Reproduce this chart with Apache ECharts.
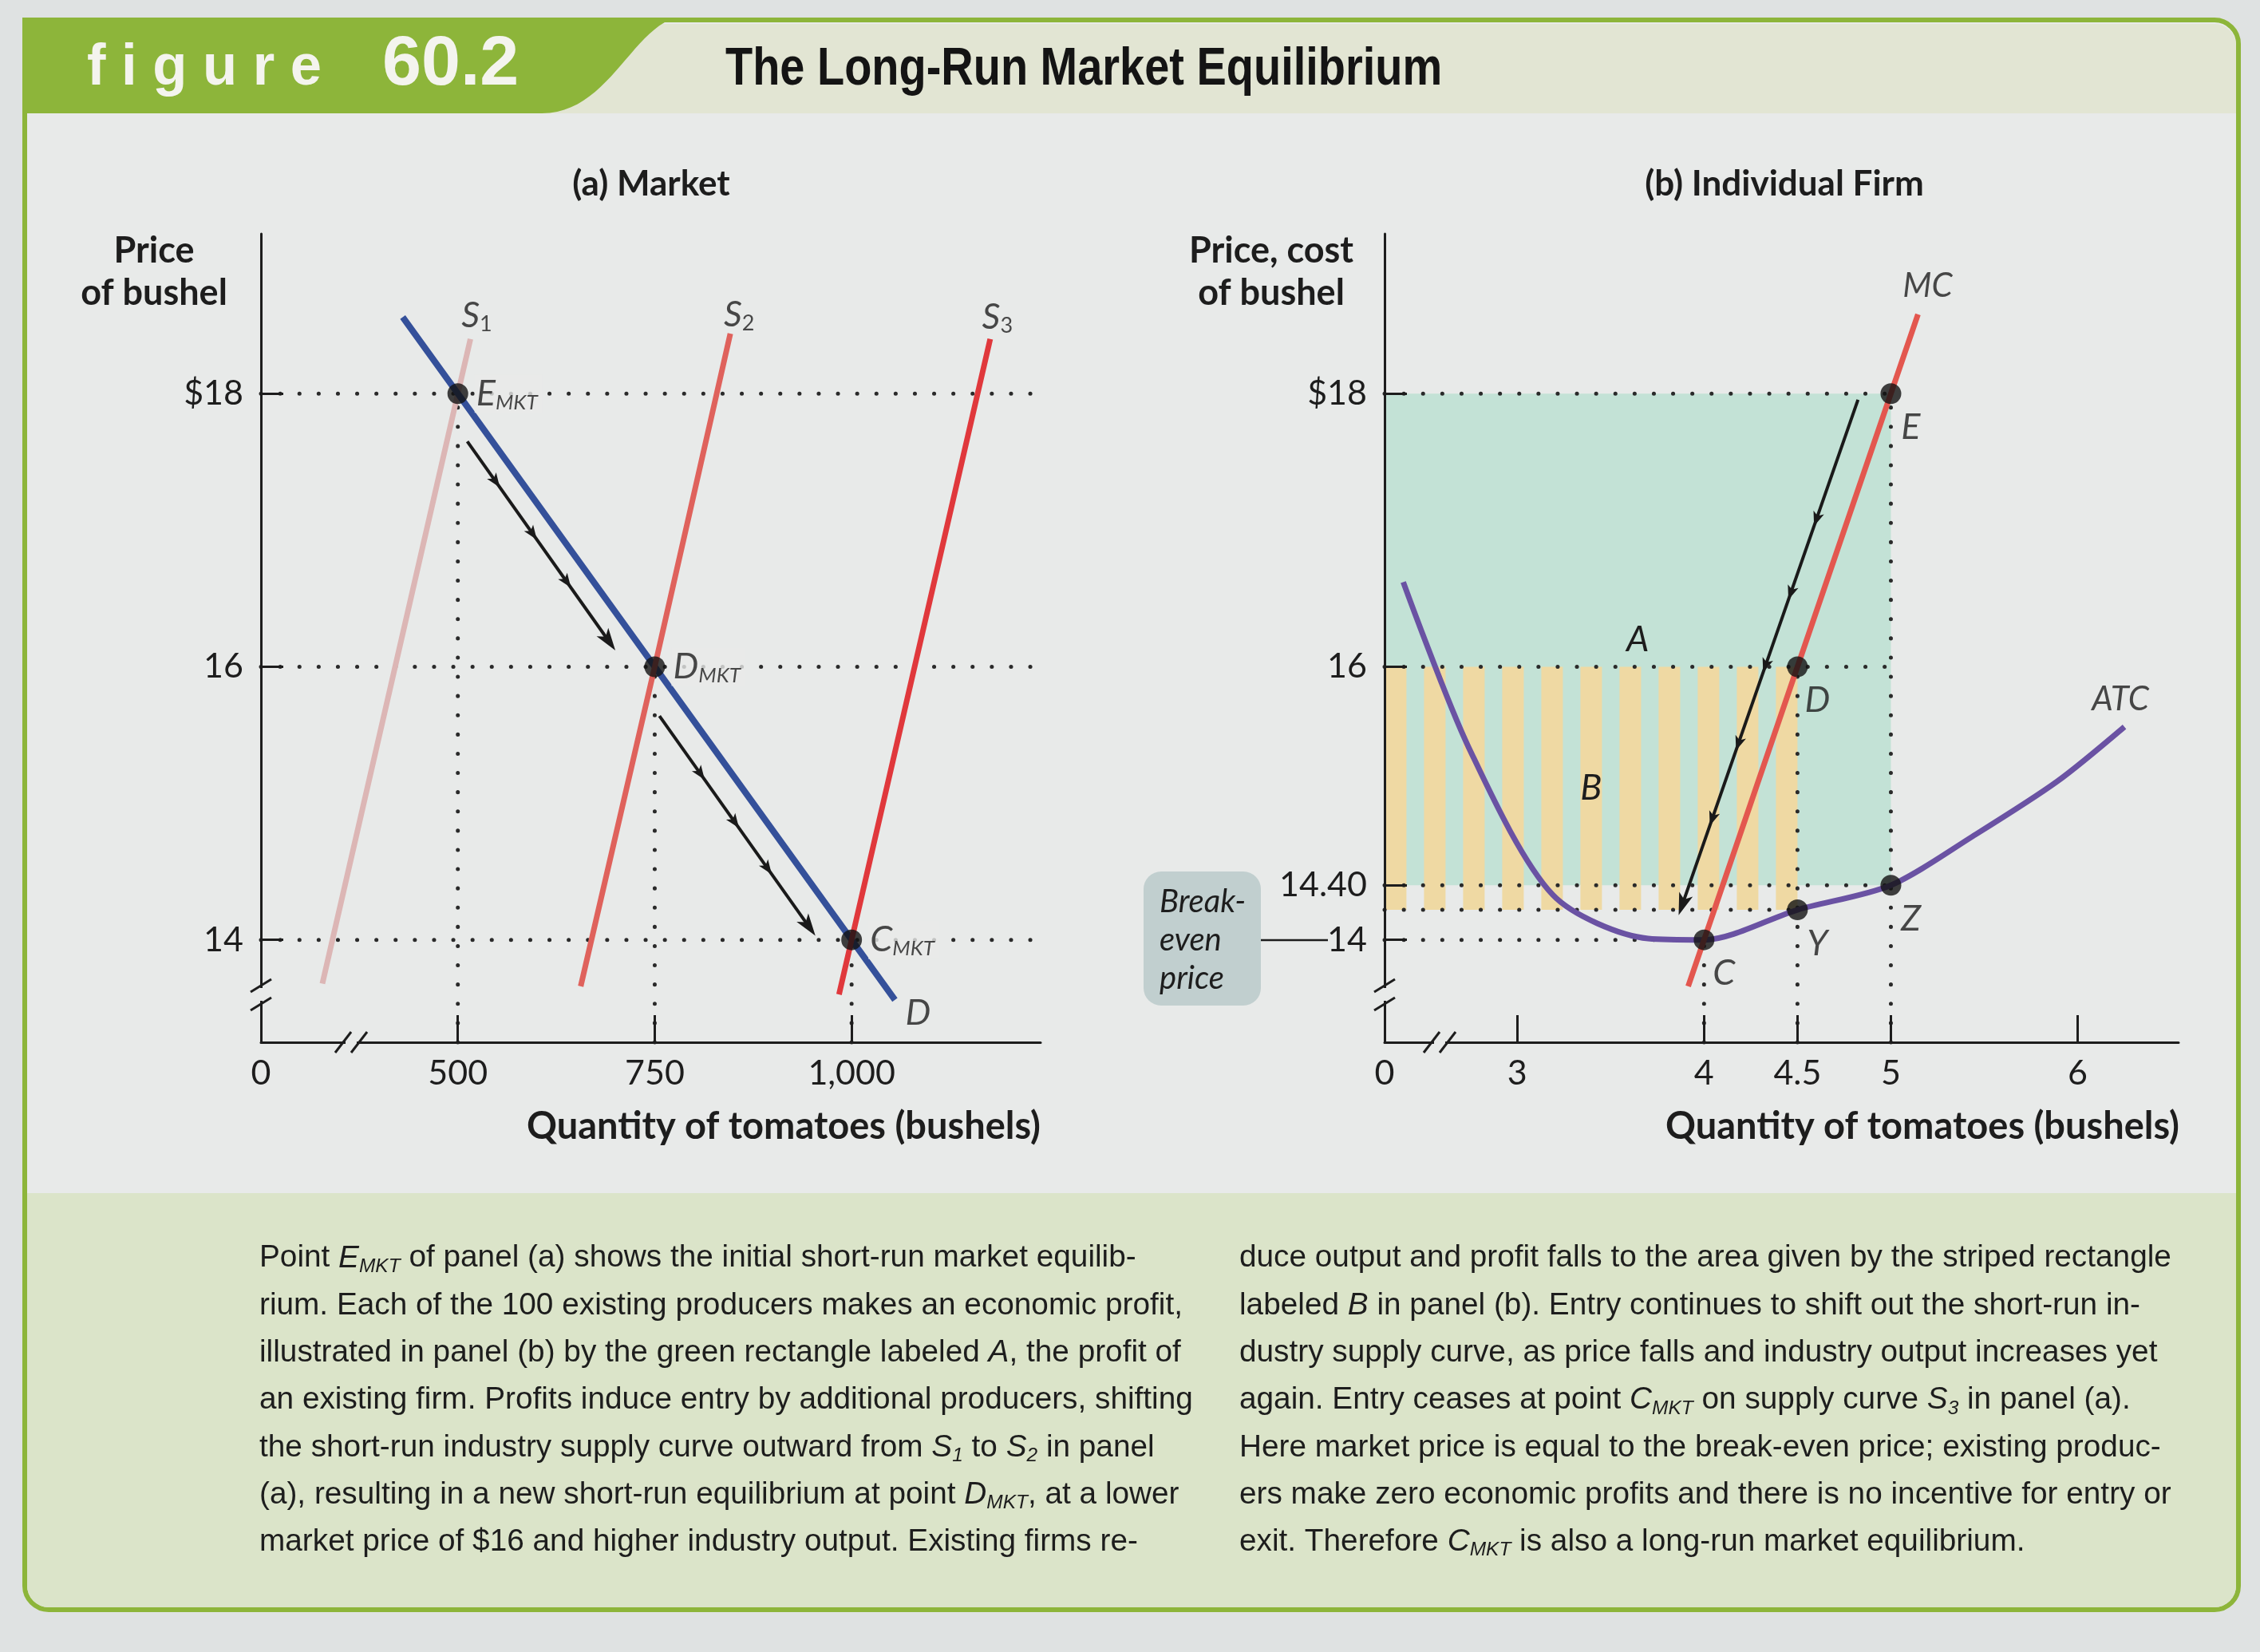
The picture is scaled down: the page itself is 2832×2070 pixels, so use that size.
<!DOCTYPE html>
<html>
<head>
<meta charset="utf-8">
<title>The Long-Run Market Equilibrium</title>
<script src="https://cdn.jsdelivr.net/npm/echarts@6.0.0/dist/echarts.min.js"></script>
<style>
html,body{margin:0;padding:0;background:#dfe2e2;}
#chart{width:2832px;height:2070px;}
</style>
</head>
<body>
<div id="chart"></div>
<script>
// ===================== DATA =====================
// Panel (a): Market
const marketQtyTicks   = [500, 750, 1000];
const marketQtyLabels  = ['500', '750', '1,000'];
const marketPriceTicks = [14, 16, 18];
const marketPriceLabels = ['14', '16', '$18'];

const demandD  = [[430, 18.56], [500, 18], [750, 16], [1000, 14], [1055, 13.56]];
const supplyS1 = [[328, 13.68], [500, 18], [516, 18.4]];
const supplyS2 = [[656, 13.66], [750, 16], [846, 18.44]];
const supplyS3 = [[984, 13.60], [1000, 14], [1176, 18.40]];

const marketPointNames = ['E', 'D', 'C'];
const marketPoints     = [[500, 18], [750, 16], [1000, 14]];

const entryArrow1 = [[512, 17.65], [700, 16.12]];
const entryArrow2 = [[756, 15.64], [954, 14.03]];

// Panel (b): Individual Firm
const firmQtyTicks   = [3, 4, 4.5, 5, 6];
const firmQtyLabels  = ['3', '4', '4.5', '5', '6'];
const firmPriceTicks = [14, 14.4, 16, 18];
const firmPriceLabels = ['14', '14.40', '16', '$18'];

const mcCurve  = [[3.915, 13.66], [4, 14], [4.5, 16], [5, 18], [5.145, 18.58]];
const atcCurve = [[2.39, 16.62], [2.74, 15.41], [3.19, 14.33], [3.70, 14.01], [4, 14],
                  [4.5, 14.22], [5, 14.4], [5.44, 14.76], [5.89, 15.16], [6.25, 15.56]];

const firmPointNames = ['E', 'D', 'Z', 'Y', 'C'];
const firmPoints     = [[5, 18], [4.5, 16], [5, 14.4], [4.5, 14.22], [4, 14]];

const profitA   = [5, 14.4, 18];    // quantity, ATC, price
const profitB   = [4.5, 14.22, 16]; // quantity, ATC, price
const exitArrow = [[4.824, 17.955], [3.864, 14.18]];

// ===================== LAYOUT / STYLE =====================
const GA = {left: 327, top: 293, width: 977, height: 1013};
const GB = {left: 1735, top: 293, width: 995, height: 1013};
const AX = {min: 250, max: 1240};     // broken quantity axis (a), min shown as 0
const BX = {min: 2.29, max: 6.54};    // broken quantity axis (b), min shown as 0
const PY = {min: 13.25, max: 19.17};  // broken price axis
const guideEndPx = {18: 1625, 16: 1658, 14: 1426}; // where market dotted guides stop

const FONT = 'Lato, "Open Sans", sans-serif';
const CAPFONT = '"Liberation Sans", Arial, sans-serif';
const BG = '#e8eae9';
const CAPBG = '#dbe4c9';
const GREEN = '#8db53a';
const INK = '#1d1d1d';
const AREA_A = '#c3e2d6';
const STRIPE = '#efd9a3';

function pxToA(px) { return AX.min + (px - GA.left) / GA.width * (AX.max - AX.min); }
function labelFor(ticks, labels) {
  return v => { const i = ticks.findIndex(t => Math.abs(t - v) < 1e-6); return i >= 0 ? labels[i] : ''; };
}

function xAxisCfg(gi, rng, ticks, labels) {
  return {
    type: 'value', gridIndex: gi, min: rng.min, max: rng.max, z: 5,
    axisLine: {show: true, lineStyle: {color: INK, width: 3}},
    axisTick: {show: true, inside: true, length: 34, customValues: ticks, lineStyle: {color: INK, width: 3}},
    axisLabel: {show: true, customValues: [rng.min].concat(ticks),
      formatter: v => Math.abs(v - rng.min) < 1e-6 ? '0' : labelFor(ticks, labels)(v),
      margin: 18, fontFamily: FONT, fontSize: 43, color: INK},
    splitLine: {show: false}
  };
}
function yAxisCfg(gi, ticks, labels) {
  return {
    type: 'value', gridIndex: gi, min: PY.min, max: PY.max, z: 5,
    axisLine: {show: true, lineStyle: {color: INK, width: 3}},
    axisTick: {show: true, inside: true, length: 28, customValues: ticks, lineStyle: {color: INK, width: 3}},
    axisLabel: {show: true, customValues: ticks, formatter: labelFor(ticks, labels),
      margin: 22, fontFamily: FONT, fontSize: 43, color: INK},
    splitLine: {show: false}
  };
}

function dotted(gi, pts) {
  return {type: 'line', xAxisIndex: gi, yAxisIndex: gi, data: pts, symbol: 'none', silent: true,
    clip: false, animation: false,
    lineStyle: {color: '#2a2a2a', width: 5, type: [0.1, 24], cap: 'round'}};
}
function curve(gi, pts, color, width, extra) {
  return Object.assign({type: 'line', xAxisIndex: gi, yAxisIndex: gi, data: pts, symbol: 'none',
    silent: true, animation: false, lineStyle: {color: color, width: width, cap: 'butt'}}, extra || {});
}

const richItalic = {
  m: {fontFamily: FONT, fontStyle: 'italic', fontSize: 45, color: INK, lineHeight: 48},
  s: {fontFamily: FONT, fontStyle: 'italic', fontSize: 26, color: INK, lineHeight: 22, verticalAlign: 'bottom'},
  n: {fontFamily: FONT, fontSize: 27, color: INK, lineHeight: 22, verticalAlign: 'bottom'}
};

// arrow renderer: line with intermediate barbs and a final head
function arrowSeries(gi, arrows, heads) {
  return {
    type: 'custom', xAxisIndex: gi, yAxisIndex: gi, silent: true, animation: false,
    data: arrows.map(a => [a[0][0], a[0][1], a[1][0], a[1][1]]),
    encode: {x: [0, 2], y: [1, 3]},
    renderItem: (params, api) => {
      const a = api.coord([api.value(0), api.value(1)]);
      const b = api.coord([api.value(2), api.value(3)]);
      const dx = b[0] - a[0], dy = b[1] - a[1], L = Math.hypot(dx, dy);
      const ux = dx / L, uy = dy / L, nx = -uy, ny = ux;
      const tri = (t, len, hw) => {
        const tx = a[0] + dx * t, ty = a[1] + dy * t;
        return {type: 'polygon', shape: {points: [[tx, ty],
          [tx - ux * len + nx * hw, ty - uy * len + ny * hw],
          [tx - ux * len * 0.75, ty - uy * len * 0.75],
          [tx - ux * len - nx * hw, ty - uy * len - ny * hw]]}, style: {fill: '#1a1a1a'}};
      };
      const ch = [{type: 'line', shape: {x1: a[0], y1: a[1], x2: b[0] - ux * 10, y2: b[1] - uy * 10},
                   style: {stroke: '#1a1a1a', lineWidth: 4}}];
      heads[params.dataIndex].forEach(t => ch.push(tri(t, 18, 7)));
      ch.push(tri(1, 28, 9));
      return {type: 'group', children: ch};
    }
  };
}

// ===================== SERIES =====================
const series = [];

// ---- Panel (a) ----
marketPoints.forEach(([q, p]) => {
  series.push(dotted(0, [[AX.min, p], [pxToA(guideEndPx[p]), p]]));
  series.push(dotted(0, [[q, PY.min], [q, p]]));
});
series.push(curve(0, supplyS1, '#dcb6b5', 7));
series.push(curve(0, demandD, '#34509a', 8));
series.push(curve(0, supplyS2, '#df625c', 7));
series.push(curve(0, supplyS3, '#e0383c', 7));
series.push(arrowSeries(0, [entryArrow1, entryArrow2], [[0.22, 0.47, 0.70], [0.29, 0.51, 0.72]]));
series.push({
  type: 'scatter', xAxisIndex: 0, yAxisIndex: 0, symbolSize: 26, silent: true, animation: false, z: 6,
  itemStyle: {color: '#111'},
  data: marketPoints.map((pt, i) => ({value: pt, name: marketPointNames[i]})),
  label: {show: true, position: 'right', distance: 8, formatter: p => '{m|' + p.name + '}{s|MKT}',
    rich: richItalic, backgroundColor: BG, padding: [0, 6, 0, 2]}
});
series.push({
  type: 'scatter', xAxisIndex: 0, yAxisIndex: 0, symbolSize: 0, silent: true, animation: false, z: 6,
  label: {show: true, rich: richItalic},
  data: [
    {value: supplyS1[supplyS1.length - 1], label: {formatter: '{m|S}{n|1}', position: 'top', offset: [8, 0]}},
    {value: supplyS2[supplyS2.length - 1], label: {formatter: '{m|S}{n|2}', position: 'top', offset: [11, 6]}},
    {value: supplyS3[supplyS3.length - 1], label: {formatter: '{m|S}{n|3}', position: 'top', offset: [9, 2]}},
    {value: demandD[demandD.length - 1], label: {formatter: '{m|D}', position: 'right', offset: [8, 17]}}
  ]
});

// ---- Panel (b) ----
series.push({
  type: 'custom', xAxisIndex: 1, yAxisIndex: 1, silent: true, animation: false,
  data: [[BX.min, profitA[1], profitA[0], profitA[2]]], encode: {x: [0, 2], y: [1, 3]},
  renderItem: (params, api) => {
    const p0 = api.coord([api.value(0), api.value(3)]);
    const p1 = api.coord([api.value(2), api.value(1)]);
    return {type: 'group', children: [
      {type: 'rect', shape: {x: p0[0], y: p0[1], width: p1[0] - p0[0], height: p1[1] - p0[1]}, style: {fill: AREA_A}},
      {type: 'text', style: {text: 'A', x: (p0[0] + p1[0]) / 2, y: (p0[1] + p1[1]) / 2, fill: INK,
        font: 'italic 45px ' + FONT, align: 'center', verticalAlign: 'middle', textAlign: 'center', textVerticalAlign: 'middle'}}
    ]};
  }
});
series.push({
  type: 'custom', xAxisIndex: 1, yAxisIndex: 1, silent: true, animation: false,
  data: [[BX.min, profitB[1], profitB[0], profitB[2]]], encode: {x: [0, 2], y: [1, 3]},
  renderItem: (params, api) => {
    const p0 = api.coord([api.value(0), api.value(3)]);
    const p1 = api.coord([api.value(2), api.value(1)]);
    const ch = [];
    for (let r = p1[0]; r > p0[0]; r -= 49) {
      const l = Math.max(p0[0], r - 27);
      ch.push({type: 'rect', shape: {x: l, y: p0[1], width: r - l, height: p1[1] - p0[1]}, style: {fill: STRIPE}});
    }
    ch.push({type: 'text', style: {text: 'B', x: (p0[0] + p1[0]) / 2, y: (p0[1] + p1[1]) / 2, fill: INK,
      font: 'italic 45px ' + FONT, align: 'center', verticalAlign: 'middle', textAlign: 'center', textVerticalAlign: 'middle'}});
    return {type: 'group', children: ch};
  }
});
// dotted guides (b)
const [fE, fD, fZ, fY, fC] = firmPoints;
[[fE[1], fE[0]], [fD[1], fE[0]], [fZ[1], fZ[0]], [fY[1], fY[0]], [fC[1], fC[0]]].forEach(([p, q]) => {
  series.push(dotted(1, [[BX.min, p], [q, p]]));
});
[fE, fD, fC].forEach(([q, p]) => series.push(dotted(1, [[q, PY.min], [q, p]])));

series.push(curve(1, atcCurve, '#6a52a3', 7, {smooth: 0.28}));
series.push(curve(1, mcCurve, '#e3574f', 7));
series.push(arrowSeries(1, [exitArrow], [[0.245, 0.388, 0.529, 0.680, 0.826]]));
series.push({
  type: 'scatter', xAxisIndex: 1, yAxisIndex: 1, symbolSize: 26, silent: true, animation: false, z: 6,
  itemStyle: {color: '#111'},
  data: firmPoints.map((pt, i) => ({value: pt, name: firmPointNames[i]})),
  label: {show: true, position: [38, 55], align: 'center', verticalAlign: 'middle',
    formatter: p => '{m|' + p.name + '}', rich: richItalic}
});
series.push({
  type: 'scatter', xAxisIndex: 1, yAxisIndex: 1, symbolSize: 0, silent: true, animation: false, z: 6,
  label: {show: true, rich: {m: {fontFamily: FONT, fontStyle: 'italic', fontSize: 42, color: INK, lineHeight: 46}}},
  data: [
    {value: mcCurve[mcCurve.length - 1], label: {formatter: '{m|MC}', position: 'top', offset: [12, -8]}},
    {value: atcCurve[atcCurve.length - 1], label: {formatter: '{m|ATC}', position: 'top', offset: [-5, -6]}}
  ]
});

// ===================== GRAPHICS (frame, titles, notes) =====================
const g = [];
const T = (text, x, y, font, extra, sx) => g.push({type: 'text', z: 100, silent: true,
  x: x, y: y, scaleX: sx || 1,
  style: Object.assign({text: text, x: 0, y: 0, font: font, fill: INK,
    textAlign: 'left', textVerticalAlign: 'middle', align: 'left', verticalAlign: 'middle'}, extra || {})});

// green header tab outline (cubic curve sampled into a polygon)
function tabPoints() {
  const pts = [[28, 22], [846, 22]];
  const P0 = [846, 22], P1 = [790, 40], P2 = [760, 142], P3 = [679, 142];
  for (let i = 1; i <= 24; i++) {
    const t = i / 24, u = 1 - t;
    pts.push([u*u*u*P0[0] + 3*u*u*t*P1[0] + 3*u*t*t*P2[0] + t*t*t*P3[0],
              u*u*u*P0[1] + 3*u*u*t*P1[1] + 3*u*t*t*P2[1] + t*t*t*P3[1]]);
  }
  pts.push([28, 142]);
  return pts;
}

// frame & backgrounds
g.push({type: 'rect', z: -30, silent: true, shape: {x: 31, y: 25, width: 2774, height: 1992, r: [0, 30, 30, 30]},
  style: {fill: BG, stroke: GREEN, lineWidth: 6}});
g.push({type: 'rect', z: -29, silent: true, shape: {x: 34, y: 1495, width: 2768, height: 519, r: [0, 0, 27, 27]}, style: {fill: CAPBG}});
g.push({type: 'rect', z: -29, silent: true, shape: {x: 34, y: 30, width: 2768, height: 112, r: [0, 27, 0, 0]}, style: {fill: '#e2e5d3'}});
g.push({type: 'polygon', z: -28, silent: true, shape: {points: tabPoints()}, style: {fill: GREEN}});
T('f i g u r e', 109, 86, 'bold 72px "Liberation Sans", Arial, sans-serif', {fill: '#f4f4ee'}, 0.98);
T('60.2', 479, 82, 'bold 88px "Liberation Sans", Arial, sans-serif', {fill: '#f4f4ee'});
T('The Long-Run Market Equilibrium', 909, 88, 'bold 67px "Liberation Sans", Arial, sans-serif', {fill: '#141414'}, 0.835);

// panel titles & axis names
T('(a) Market', 816, 231, 'bold 44px ' + FONT, {textAlign: 'center', align: 'center'});
T('(b) Individual Firm', 2236, 231, 'bold 44px ' + FONT, {textAlign: 'center', align: 'center'});
T('Price\nof bushel', 193, 341, 'bold 45px ' + FONT, {textAlign: 'center', align: 'center', lineHeight: 53});
T('Price, cost\nof bushel', 1593, 341, 'bold 45px ' + FONT, {textAlign: 'center', align: 'center', lineHeight: 53});
T('Quantity of tomatoes (bushels)', 1304, 1412, 'bold 47px ' + FONT, {textAlign: 'right', align: 'right'});
T('Quantity of tomatoes (bushels)', 2731, 1412, 'bold 47px ' + FONT, {textAlign: 'right', align: 'right'});

// axis breaks
function yBreak(x) {
  g.push({type: 'rect', z: 90, silent: true, shape: {x: x - 5, y: 1238, width: 10, height: 16}, style: {fill: BG}});
  g.push({type: 'line', z: 91, silent: true, shape: {x1: x - 13, y1: 1243, x2: x + 13, y2: 1227}, style: {stroke: INK, lineWidth: 3}});
  g.push({type: 'line', z: 91, silent: true, shape: {x1: x - 13, y1: 1266, x2: x + 13, y2: 1250}, style: {stroke: INK, lineWidth: 3}});
}
function xBreak(x, y) {
  g.push({type: 'rect', z: 90, silent: true, shape: {x: x + 3, y: y - 5, width: 14, height: 10}, style: {fill: BG}});
  g.push({type: 'line', z: 91, silent: true, shape: {x1: x - 10, y1: y + 13, x2: x + 10, y2: y - 13}, style: {stroke: INK, lineWidth: 3}});
  g.push({type: 'line', z: 91, silent: true, shape: {x1: x + 10, y1: y + 13, x2: x + 30, y2: y - 13}, style: {stroke: INK, lineWidth: 3}});
}
yBreak(GA.left); yBreak(GB.left);
xBreak(430, GA.top + GA.height); xBreak(1794, GB.top + GB.height);

// break-even box
g.push({type: 'rect', z: 50, silent: true, shape: {x: 1433, y: 1092, width: 147, height: 168, r: 22}, style: {fill: '#c1cfcf'}});
T('Break-\neven\nprice', 1453, 1178, 'italic 40px ' + FONT, {lineHeight: 48});
g.push({type: 'line', z: 50, silent: true, shape: {x1: 1580, y1: 1178, x2: 1664, y2: 1178}, style: {stroke: INK, lineWidth: 2.5}});

// caption
const capLeft = [
  'Point {i|E}{s|MKT} of panel (a) shows the initial short-run market equilib-',
  'rium. Each of the 100 existing producers makes an economic profit,',
  'illustrated in panel (b) by the green rectangle labeled {i|A}, the profit of',
  'an existing firm. Profits induce entry by additional producers, shifting',
  'the short-run industry supply curve outward from {i|S}{s|1} to {i|S}{s|2} in panel',
  '(a), resulting in a new short-run equilibrium at point {i|D}{s|MKT}, at a lower',
  'market price of $16 and higher industry output. Existing firms re-'
];
const capRight = [
  'duce output and profit falls to the area given by the striped rectangle',
  'labeled {i|B} in panel (b). Entry continues to shift out the short-run in-',
  'dustry supply curve, as price falls and industry output increases yet',
  'again. Entry ceases at point {i|C}{s|MKT} on supply curve {i|S}{s|3} in panel (a).',
  'Here market price is equal to the break-even price; existing produc-',
  'ers make zero economic profits and there is no incentive for entry or',
  'exit. Therefore {i|C}{s|MKT} is also a long-run market equilibrium.'
];
const capRich = {
  i: {fontFamily: CAPFONT, fontStyle: 'italic', fontSize: 38, fill: INK, lineHeight: 44},
  s: {fontFamily: CAPFONT, fontStyle: 'italic', fontSize: 24, fill: INK, lineHeight: 20, verticalAlign: 'bottom'}
};
capLeft.forEach((s, i) => T(s, 325, 1577 + i * 59.3, '38px ' + CAPFONT, {rich: capRich, lineHeight: 44}, 1.02));
capRight.forEach((s, i) => T(s, 1553, 1577 + i * 59.3, '38px ' + CAPFONT, {rich: capRich, lineHeight: 44}, 1.02));

// ===================== CHART =====================
const chart = echarts.init(document.getElementById('chart'), null, {renderer: 'canvas', width: 2832, height: 2070});
chart.setOption({
  backgroundColor: '#dfe2e2',
  animation: false,
  grid: [
    Object.assign({containLabel: false}, GA),
    Object.assign({containLabel: false}, GB)
  ],
  xAxis: [xAxisCfg(0, AX, marketQtyTicks, marketQtyLabels), xAxisCfg(1, BX, firmQtyTicks, firmQtyLabels)],
  yAxis: [yAxisCfg(0, marketPriceTicks, marketPriceLabels), yAxisCfg(1, firmPriceTicks, firmPriceLabels)],
  series: series,
  graphic: g
});
</script>
</body>
</html>
